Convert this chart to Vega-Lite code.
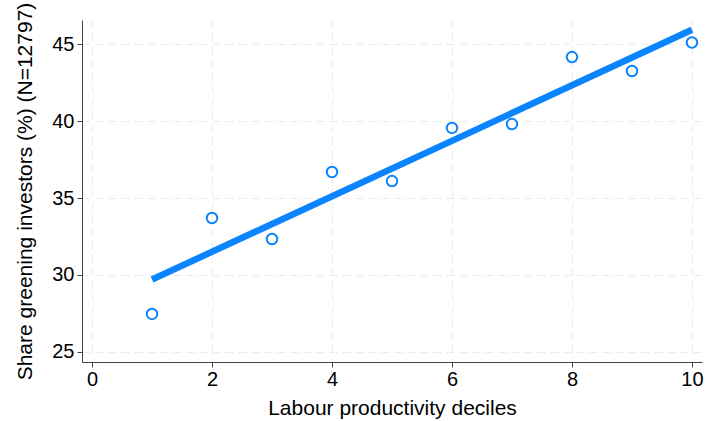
{
  "$schema": "https://vega.github.io/schema/vega-lite/v6.json",
  "width": 620,
  "height": 342,
  "autosize": {"type": "none"},
  "padding": {"left": 82, "top": 20, "right": 5, "bottom": 59},
  "background": "white",
  "config": {
    "view": {"stroke": null},
    "font": "Liberation Sans",
    "axis": {
      "labelFont": "Liberation Sans",
      "titleFont": "Liberation Sans",
      "labelFontSize": 20,
      "titleFontSize": 21,
      "titleFontWeight": "normal",
      "labelColor": "#000000",
      "titleColor": "#000000",
      "domainColor": "#444444",
      "tickColor": "#444444",
      "tickSize": 5,
      "gridColor": "#ebebeb",
      "gridDash": [8, 5],
      "gridWidth": 1
    }
  },
  "data": {
    "values": [
      {"decile": 1, "share": 27.47},
      {"decile": 2, "share": 33.7},
      {"decile": 3, "share": 32.34},
      {"decile": 4, "share": 36.69},
      {"decile": 5, "share": 36.1},
      {"decile": 6, "share": 39.55},
      {"decile": 7, "share": 39.8},
      {"decile": 8, "share": 44.15},
      {"decile": 9, "share": 43.25},
      {"decile": 10, "share": 45.1}
    ]
  },
  "layer": [
    {
      "transform": [{"regression": "share", "on": "decile", "method": "linear"}],
      "mark": {"type": "line", "color": "#0a84ff", "strokeWidth": 6.5, "strokeCap": "butt"},
      "encoding": {
        "x": {"field": "decile", "type": "quantitative"},
        "y": {"field": "share", "type": "quantitative"}
      }
    },
    {
      "mark": {"type": "point", "shape": "circle", "filled": false, "color": "#0a84ff", "strokeWidth": 2, "size": 110, "opacity": 1},
      "encoding": {
        "x": {
          "field": "decile",
          "type": "quantitative",
          "scale": {"domain": [-0.167, 10.167], "nice": false, "zero": false},
          "axis": {"values": [0, 2, 4, 6, 8, 10], "format": "d", "title": "Labour productivity deciles", "labelPadding": 2, "titlePadding": 8, "labelFlush": false}
        },
        "y": {
          "field": "share",
          "type": "quantitative",
          "scale": {"domain": [24.35, 46.56], "nice": false, "zero": false},
          "axis": {"values": [25, 30, 35, 40, 45], "format": "d", "title": "Share greening investors (%) (N=12797)", "labelPadding": 3, "titlePadding": 16, "labelFlush": false}
        }
      }
    }
  ]
}
